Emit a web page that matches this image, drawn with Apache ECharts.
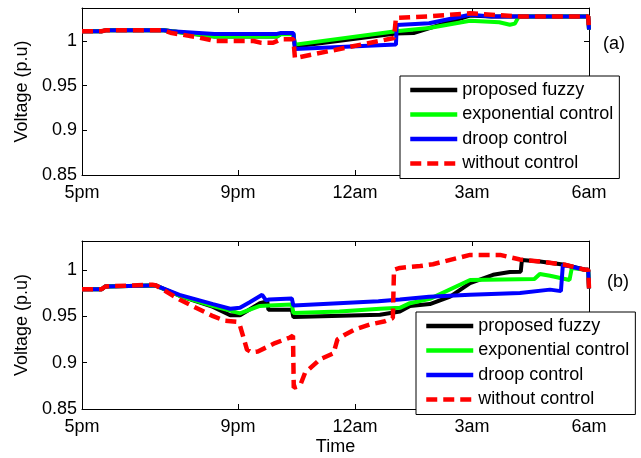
<!DOCTYPE html>
<html>
<head>
<meta charset="utf-8">
<script src="https://cdn.jsdelivr.net/npm/echarts@6/dist/echarts.min.js"></script>
<style>
html,body{margin:0;padding:0;background:#fff;}
#c{width:641px;height:458px;}
</style>
</head>
<body>
<div id="c"></div>
<script>
// x in hours after 5pm
const xTickHours = [0, 4, 7, 10, 13];
const xTickLabels = ['5pm', '9pm', '12am', '3am', '6am'];
const yTickValues = [0.85, 0.9, 0.95, 1];
const seriesNames = ['proposed fuzzy', 'exponential control', 'droop control', 'without control'];

// (a) top panel
const topFuzzy = [[0,1.011],[0.5,1.011],[0.6,1.012],[2.1,1.012],[2.3,1.011],[3.4,1.005],[5.0,1.005],[5.1,1.008],[5.42,1.008],[5.46,0.994],[8.05,1.0085],[8.5,1.009],[8.55,1.011],[9.95,1.0285],[10.5,1.0276],[12.98,1.0276],[13,1.0127]];
const topExp = [[0,1.011],[0.5,1.011],[0.6,1.012],[2.1,1.012],[2.3,1.011],[3.4,1.005],[5.0,1.005],[5.1,1.0075],[5.42,1.008],[5.46,0.996],[8.05,1.011],[8.9,1.0146],[9.95,1.0228],[10.7,1.021],[10.97,1.0183],[11.1,1.0195],[11.2,1.0276],[12.98,1.0276],[13,1.0127]];
const topDroop = [[0,1.011],[0.5,1.011],[0.6,1.012],[2.1,1.012],[2.3,1.011],[3.4,1.008],[5.0,1.008],[5.1,1.009],[5.42,1.009],[5.46,0.991],[8.05,0.996],[8.07,1.018],[8.9,1.020],[9.95,1.0295],[10.5,1.0276],[12.98,1.0276],[13,1.0127]];
const topNone = [[0,1.011],[0.5,1.011],[0.6,1.012],[2.1,1.012],[2.3,1.009],[3.0,1.004],[3.4,1.000],[4.4,1.000],[4.6,0.998],[4.9,0.998],[5.1,1.002],[5.42,1.002],[5.46,0.981],[8.0,1.0034],[8.05,1.026],[8.9,1.0276],[9.95,1.031],[10.5,1.0295],[11.2,1.0276],[12.98,1.0276],[13,1.0127]];

// (b) bottom panel
const botFuzzy = [[0,0.979],[0.5,0.979],[0.6,0.982],[1.8,0.983],[1.9,0.983],[2.5,0.972],[3.36,0.960],[3.8,0.951],[4.05,0.951],[4.56,0.964],[4.75,0.966],[4.78,0.957],[5.38,0.957],[5.42,0.949],[7.64,0.9515],[8.15,0.955],[8.41,0.961],[8.92,0.963],[9.44,0.971],[9.95,0.9857],[10.54,0.9946],[10.97,0.9975],[11.25,0.998],[11.28,1.0105],[11.74,1.009],[12.38,1.0054],[12.9,1.0],[12.98,1.0],[13,0.98]];
const botExp = [[0,0.979],[0.5,0.979],[0.6,0.982],[1.8,0.983],[1.9,0.983],[2.5,0.972],[3.36,0.961],[3.8,0.956],[4.05,0.953],[4.56,0.961],[4.8,0.9615],[5.38,0.9625],[5.42,0.9535],[6.6,0.955],[7.64,0.958],[8.15,0.959],[8.41,0.964],[8.92,0.9686],[9.95,0.989],[11.6,0.990],[11.74,0.9955],[12.0,0.9936],[12.5,0.989],[12.56,1.002],[12.9,1.0],[12.98,1.0],[13,0.98]];
const botDroop = [[0,0.979],[0.5,0.979],[0.6,0.982],[1.8,0.983],[1.9,0.983],[2.5,0.973],[3.36,0.963],[3.8,0.958],[4.05,0.959],[4.3,0.965],[4.62,0.973],[4.72,0.967],[4.8,0.968],[5.38,0.969],[5.42,0.9615],[7.6,0.966],[8.15,0.968],[8.9,0.971],[9.95,0.973],[11.23,0.975],[12.0,0.9786],[12.28,0.977],[12.33,1.0054],[12.9,1.0],[12.98,1.0],[13,0.98]];
const botNone = [[0,0.979],[0.5,0.979],[0.6,0.982],[1.8,0.984],[1.9,0.983],[2.5,0.968],[3.36,0.950],[3.67,0.945],[3.97,0.944],[4.05,0.940],[4.13,0.9285],[4.23,0.914],[4.35,0.911],[4.51,0.912],[4.95,0.921],[5.33,0.927],[5.41,0.929],[5.43,0.873],[5.59,0.875],[5.72,0.889],[6.10,0.9035],[6.45,0.910],[6.55,0.925],[6.74,0.930],[7.0,0.9357],[7.38,0.941],[7.77,0.9446],[7.97,0.948],[8.0,1.0],[8.15,1.002],[8.67,1.004],[9.0,1.006],[9.95,1.016],[10.72,1.016],[11.23,1.011],[11.74,1.009],[12.38,1.0054],[12.9,1.0],[12.98,1.0],[13,0.98]];

const topYMax = 1.037;
const botYMax = 1.031;

const FONT = 'Liberation Sans';
const colors = ['#000000', '#00ff00', '#0000ff', '#ff0000'];

function xAxisDef(gridIndex, pos, showLabel, name) {
  return {
    type: 'value', gridIndex: gridIndex, position: pos, min: 0, max: 13,
    name: name || '', nameLocation: 'middle', nameGap: 29,
    nameTextStyle: {fontFamily: FONT, fontSize: 18, color: '#000'},
    axisLine: {show: true, onZero: false, lineStyle: {color: '#000', width: 1}},
    axisTick: {show: true, inside: true, length: 5, customValues: xTickHours, lineStyle: {color: '#000'}},
    axisLabel: {show: showLabel, customValues: xTickHours, margin: 9, fontFamily: FONT, fontSize: 18, color: '#000',
      formatter: function (v) { const i = xTickHours.indexOf(v); return i >= 0 ? xTickLabels[i] : ''; }},
    splitLine: {show: false}
  };
}
function yAxisDef(gridIndex, pos, showLabel, max) {
  return {
    type: 'value', gridIndex: gridIndex, position: pos, min: 0.85, max: max,
    name: showLabel ? 'Voltage (p.u)' : '', nameLocation: 'middle', nameGap: 48,
    nameTextStyle: {fontFamily: FONT, fontSize: 18, color: '#000'},
    axisLine: {show: true, onZero: false, lineStyle: {color: '#000', width: 1}},
    axisTick: {show: true, inside: true, length: 5, customValues: yTickValues, lineStyle: {color: '#000'}},
    axisLabel: {show: showLabel, customValues: yTickValues, margin: 5, fontFamily: FONT, fontSize: 18, color: '#000'},
    splitLine: {show: false}
  };
}

const panelData = [[topFuzzy, topExp, topDroop, topNone], [botFuzzy, botExp, botDroop, botNone]];
const series = [];
panelData.forEach(function (arrs, p) {
  arrs.forEach(function (d, i) {
    series.push({
      name: seriesNames[i], type: 'line', xAxisIndex: p * 2, yAxisIndex: p * 2,
      data: d, symbol: 'none', showSymbol: false, animation: false,
      lineStyle: {color: colors[i], width: i === 3 ? 4.5 : 4, type: i === 3 ? [11, 6] : 'solid'},
      itemStyle: {color: colors[i]}
    });
  });
});

function legendDef(left, top) {
  return {
    orient: 'vertical', left: left, top: top, data: seriesNames,
    backgroundColor: '#fff', borderColor: '#000', borderWidth: 1, borderRadius: 0,
    padding: [4, 6, 5, 8], itemGap: 4.5, itemWidth: 47, itemHeight: 14,
    itemStyle: {opacity: 0},
    lineStyle: {width: 4.5},
    textStyle: {fontFamily: FONT, fontSize: 18, color: '#000', lineHeight: 20},
    selectedMode: false
  };
}

const chart = echarts.init(document.getElementById('c'), null, {renderer: 'canvas'});
chart.setOption({
  animation: false,
  backgroundColor: '#fff',
  grid: [
    {left: 82, top: 8, width: 507, height: 167},
    {left: 82, top: 241, width: 507, height: 168}
  ],
  xAxis: [xAxisDef(0, 'bottom', true), xAxisDef(0, 'top', false), xAxisDef(1, 'bottom', true, 'Time'), xAxisDef(1, 'top', false)],
  yAxis: [yAxisDef(0, 'left', true, topYMax), yAxisDef(0, 'right', false, topYMax), yAxisDef(1, 'left', true, botYMax), yAxisDef(1, 'right', false, botYMax)],
  legend: [legendDef(400, 76), legendDef(416, 312)],
  graphic: [
    {type: 'text', left: 603, top: 35, style: {text: '(a)', fontFamily: FONT, fontSize: 18, fill: '#000'}},
    {type: 'text', left: 607, top: 273, style: {text: '(b)', fontFamily: FONT, fontSize: 18, fill: '#000'}}
  ],
  series: series
});
</script>
</body>
</html>
